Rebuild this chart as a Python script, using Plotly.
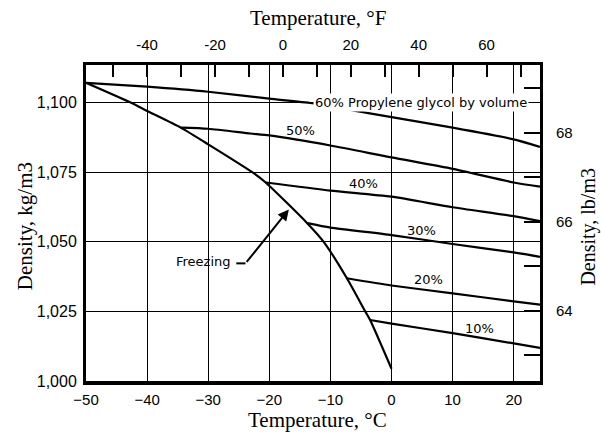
import plotly.graph_objects as go

# ---------------- data ----------------
t60 = [-50, -40, -30, -20, -13, -3.8, 10, 20, 24.3]
d60 = [1107.1, 1105.7, 1103.9, 1101.4, 1099.8, 1096.2, 1091.0, 1086.8, 1084.1]

t50 = [-34.5, -30, -23.1, -20, -10, 0, 10, 20, 24.3]
d50 = [1091.0, 1090.6, 1088.9, 1088.2, 1084.6, 1080.3, 1076.2, 1071.3, 1069.8]

t40 = [-20.6, -10, 0, 10, 20, 24.3]
d40 = [1071.3, 1068.4, 1066.2, 1062.4, 1059.2, 1057.4]

t30 = [-13.8, -10, 0, 10, 20, 24.3]
d30 = [1056.7, 1055.1, 1052.4, 1049.2, 1046.2, 1044.6]

t20 = [-7.3, 0, 10, 20, 24.3]
d20 = [1036.9, 1034.3, 1031.5, 1028.6, 1027.4]

t10 = [-3.5, 0, 10, 20, 24.3]
d10 = [1021.9, 1020.6, 1017.2, 1013.5, 1011.9]

t_frz = [-50, -42.7, -40, -34.5, -30, -22.8, -20.6, -13.8, -11.1, -7.3, -4.3, -3.5, 0]
d_frz = [1107.1, 1100, 1097.0, 1091.0, 1085.0, 1075.0, 1071.3, 1056.7, 1050.0, 1036.9, 1025.0, 1021.9, 1004.4]

series = [(t60, d60), (t50, d50), (t40, d40), (t30, d30), (t20, d20), (t10, d10), (t_frz, d_frz)]

pct_labels = ["50%", "40%", "30%", "20%", "10%"]
pct_label_t = [-14.9, -4.65, 4.9, 6.0, 14.4]
pct_label_d = [1090.0, 1071.1, 1053.9, 1036.3, 1018.7]

title_60 = "60% Propylene glycol by volume"
title_60_pos = (4.8, 1099.9)

y_ticks = [1000, 1025, 1050, 1075, 1100]
y_ticktext = ["1,000", "1,025", "1,050", "1,075", "1,100"]
x_ticks = [-50, -40, -30, -20, -10, 0, 10, 20]
f_ticks = [-50, -40, -30, -20, -10, 0, 10, 20, 30, 40, 50, 60, 70]
f_ticktext = ["", "-40", "", "-20", "", "0", "", "20", "", "40", "", "60", ""]
lb_ticks = [63, 64, 65, 66, 67, 68, 69]
lb_ticktext = ["", "64", "", "66", "", "68", ""]

X_RANGE = [-50, 24.3]
Y_RANGE = [1000, 1113.5]
KG_TO_LB = 0.062428

# ---------------- figure ----------------
fig = go.Figure()
for tx, dy in series:
    fig.add_trace(go.Scatter(x=tx, y=dy, mode="lines",
                             line=dict(color="black", width=2.2, shape="spline", smoothing=0.6),
                             hoverinfo="skip", showlegend=False))

# invisible companion trace so the °F / lb/ft3 axes exist
fig.add_trace(go.Scatter(x=[t * 1.8 + 32 for t in t_frz],
                         y=[d * KG_TO_LB for d in d_frz],
                         xaxis="x2", yaxis="y2", mode="lines",
                         line=dict(width=0), opacity=0,
                         hoverinfo="skip", showlegend=False))

tick_font = dict(family="Liberation Sans, Arial, sans-serif", size=15, color="black")
title_font = dict(family="Liberation Serif, Times New Roman, serif", size=21, color="black")
label_font = dict(family="DejaVu Sans, sans-serif", size=13, color="black")

fig.update_layout(
    width=601, height=435,
    margin=dict(l=86, r=61, t=65, b=54),
    paper_bgcolor="white", plot_bgcolor="white",
    showlegend=False,
    xaxis=dict(range=X_RANGE, tickvals=x_ticks, ticks="", showgrid=True,
               gridcolor="black", gridwidth=1.3, zeroline=False,
               showline=True, linecolor="black", linewidth=4,
               tickfont=tick_font, ticklabelstandoff=2),
    xaxis2=dict(range=[X_RANGE[0] * 1.8 + 32, X_RANGE[1] * 1.8 + 32],
                overlaying="x", side="top", tickvals=f_ticks, ticktext=f_ticktext,
                ticks="inside", ticklen=12, tickwidth=1.5, tickcolor="black",
                showgrid=False, zeroline=False,
                showline=True, linecolor="black", linewidth=3,
                tickfont=tick_font, ticklabelstandoff=6),
    yaxis=dict(range=Y_RANGE, tickvals=y_ticks, ticktext=y_ticktext, ticks="",
               showgrid=True, gridcolor="black", gridwidth=1.3, zeroline=False,
               showline=True, linecolor="black", linewidth=3,
               tickfont=dict(family="Liberation Sans, Arial, sans-serif", size=16, color="black"),
               ticklabelstandoff=3),
    yaxis2=dict(range=[Y_RANGE[0] * KG_TO_LB, Y_RANGE[1] * KG_TO_LB],
                overlaying="y", side="right", tickvals=lb_ticks, ticktext=lb_ticktext,
                ticks="inside", ticklen=16, tickwidth=1.8, tickcolor="black",
                showgrid=False, zeroline=False,
                showline=True, linecolor="black", linewidth=3,
                tickfont=tick_font, ticklabelstandoff=10),
)

annotations = []
for txt, tx, dy in zip(pct_labels, pct_label_t, pct_label_d):
    annotations.append(dict(x=tx, y=dy, xref="x", yref="y", text=txt,
                            showarrow=False, font=label_font))
annotations.append(dict(x=title_60_pos[0], y=title_60_pos[1], xref="x", yref="y",
                        text=title_60, showarrow=False, font=label_font,
                        bgcolor="white", borderpad=1))
# Freezing label + arrow
annotations.append(dict(x=-30.85, y=1043.0, xref="x", yref="y", text="Freezing",
                        showarrow=False, font=label_font))
annotations.append(dict(x=-16.8, y=1061.6, xref="x", yref="y",
                        ax=-23.9, ay=1042.25, axref="x", ayref="y", text="",
                        showarrow=True, arrowhead=2, arrowsize=1.1, arrowwidth=2,
                        arrowcolor="black"))
# axis titles
annotations += [
    dict(x=0.51, y=1.149, xref="paper", yref="paper", text="Temperature, °F",
         showarrow=False, font=title_font, xanchor="center", yanchor="middle"),
    dict(x=0.509, y=-0.1234, xref="paper", yref="paper", text="Temperature, °C",
         showarrow=False, font=title_font, xanchor="center", yanchor="middle"),
    dict(x=-0.134, y=0.4905, xref="paper", yref="paper", text="Density, kg/m3",
         showarrow=False, font=title_font, textangle=-90,
         xanchor="center", yanchor="middle"),
    dict(x=1.106, y=0.489, xref="paper", yref="paper", text="Density, lb/m3",
         showarrow=False, font=dict(family="Liberation Serif, Times New Roman, serif",
                                    size=20, color="black"),
         textangle=-90, xanchor="center", yanchor="middle"),
]
fig.update_layout(annotations=annotations)

fig.add_shape(type="line", xref="x", yref="y", x0=-25.4, x1=-23.9, y0=1042.25, y1=1042.25,
              line=dict(color="black", width=2))

fig.write_html("out.html")
